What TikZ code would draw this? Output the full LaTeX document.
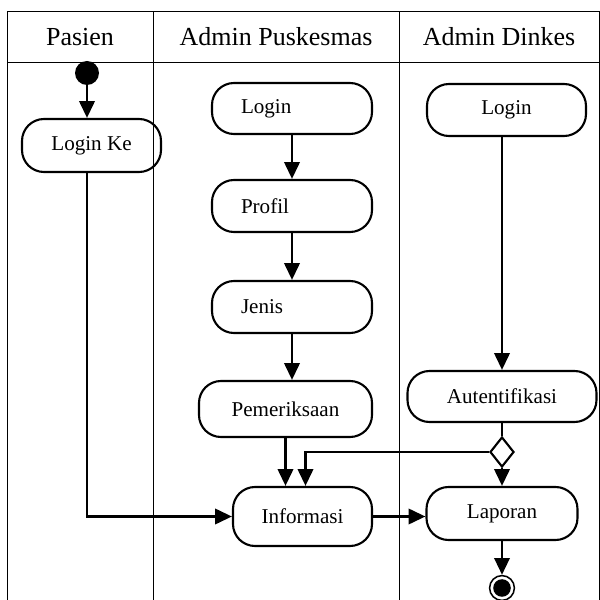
\documentclass[tikz,border=0pt]{standalone}
\usepackage{fontspec}
\setmainfont{Liberation Serif}
\usetikzlibrary{arrows.meta,shapes.geometric}
\tikzset{
  activity/.style={draw, line width=1.5pt, rounded corners=0.55cm, minimum height=1.3cm, inner sep=0pt, font=\fontsize{15}{18}\selectfont},
  leftact/.style={activity, text width=2.55cm, align=left, inner xsep=0.725cm},
  flow/.style={line width=2pt, -{Triangle[length=0.42cm,width=0.38cm]}},
  lane/.style={line width=0.6pt},
  lanehead/.style={anchor=base, font=\fontsize{18.5}{22}\selectfont}
}

\begin{document}
\begin{tikzpicture}
  \useasboundingbox (0,0) rectangle (15,15);
  \draw[lane] (0.175,0) -- (0.175,14.71) -- (14.975,14.71) -- (14.975,0);
  \draw[lane] (0.175,13.45) -- (14.975,13.45);
  \draw[lane] (3.84,0) -- (3.84,14.71);
  \draw[lane] (9.975,0) -- (9.975,14.71);
  \node[lanehead] (pasien) at (2.0,13.85) {Pasien};
  \node[lanehead] (puskesmas) at (6.9,13.85) {Admin Puskesmas};
  \node[lanehead] (dinkes) at (12.475,13.85) {Admin Dinkes};

  \node[circle, fill=black, minimum size=0.6cm, inner sep=0pt] (start) at (2.175,13.175) {};
  \node[activity, minimum width=3.475cm, minimum height=1.325cm] (loginke) at (2.2875,11.3625) {Login Ke};

  \node[leftact, minimum width=4cm, minimum height=1.275cm] (loginpk) at (7.3,12.2875) {Login};
  \node[leftact, minimum width=4cm] (profil) at (7.3,9.85) {Profil};
  \node[leftact, minimum width=4cm] (jenis) at (7.3,7.325) {Jenis};
  \node[activity, minimum width=4.325cm, minimum height=1.4cm] (periksa) at (7.1375,4.775) {Pemeriksaan};
  \node[activity, minimum width=3.475cm, minimum height=1.475cm] (informasi) at (7.5625,2.0875) {Informasi};

  \node[activity, minimum width=3.975cm] (logindk) at (12.6625,12.25) {Login};
  \node[activity, minimum width=4.725cm, minimum height=1.275cm] (autentik) at (12.55,5.0875) {Autentifikasi};
  \node[diamond, draw, line width=1.5pt, minimum width=0.6cm, minimum height=0.75cm, inner sep=0pt] (decision) at (12.55,3.7) {};
  \node[activity, minimum width=3.775cm, minimum height=1.325cm] (laporan) at (12.55,2.1625) {Laporan};
  \node[circle, draw, line width=1.1pt, minimum size=0.62cm, inner sep=0pt,
        path picture={\fill[black] (path picture bounding box.center) circle (0.22cm);}] (end) at (12.55,0.3) {};

  \coordinate (merge) at ([xshift=0.5cm]periksa.south);

  \draw[flow] (start) -- (start |- loginke.north);
  \draw[flow] (start |- loginke.south) |- (informasi.west);
  \draw[flow] (loginpk) -- (profil);
  \draw[flow] (profil) -- (jenis);
  \draw[flow] (jenis.south) -- (jenis.south |- periksa.north);
  \draw[flow] (periksa.south) -- (periksa.south |- informasi.north);
  \draw[flow] (informasi.east) -- (informasi.east -| laporan.west);
  \draw[flow] (logindk.south -| autentik.north) -- (autentik.north);
  \draw[line width=2pt] (autentik) -- (decision);
  \draw[flow] (decision.west) -| (merge |- informasi.north);
  \draw[flow] (decision) -- (laporan);
  \draw[flow] (laporan) -- (end);
\end{tikzpicture}
\end{document}
